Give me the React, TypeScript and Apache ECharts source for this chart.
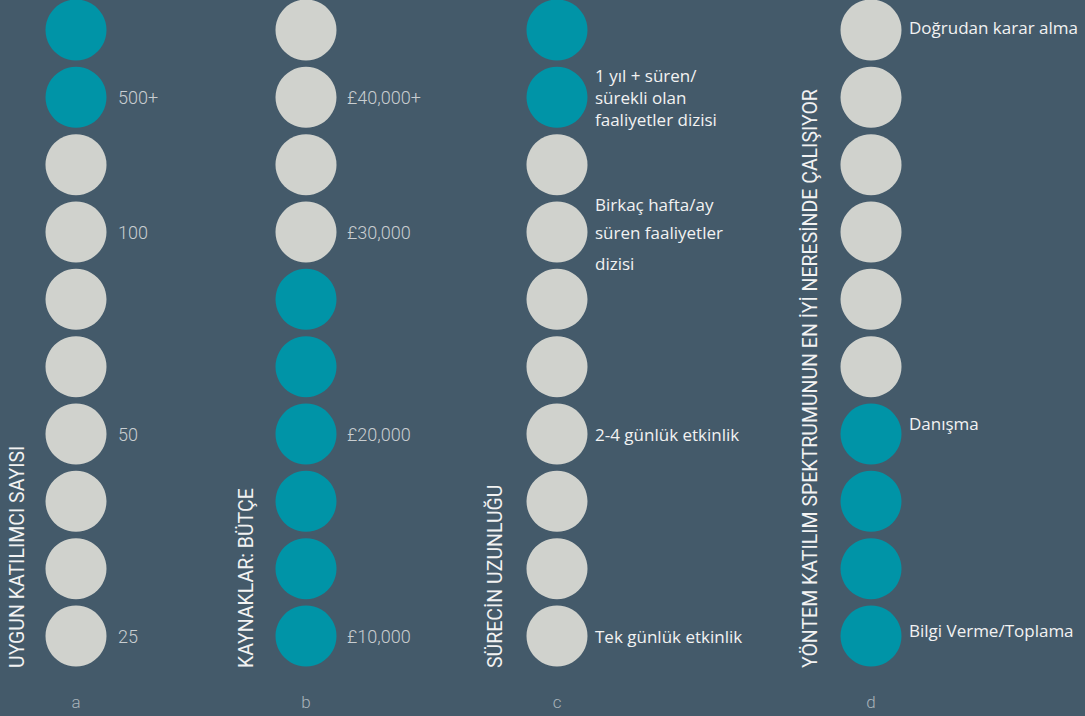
import React, { useEffect, useRef } from "react";
import * as echarts from "echarts";

const columnLetters = ["a", "b", "c", "d"];
const columnTitles = [
  "UYGUN KATILIMCI SAYISI",
  "KAYNAKLAR: BÜTÇE",
  "SÜRECİN UZUNLUĞU",
  "YÖNTEM KATILIM SPEKTRUMUNUN EN İYİ NERESİNDE ÇALIŞIYOR",
];
const rowIds = ["r0", "r1", "r2", "r3", "r4", "r5", "r6", "r7", "r8", "r9"];

const labelsA = ["", "500+", "", "100", "", "", "50", "", "", "25"];
const labelsB = ["", "£40,000+", "", "£30,000", "", "", "£20,000", "", "", "£10,000"];
const labelsC = [
  "",
  "1 yıl + süren/\nsürekli olan\nfaaliyetler dizisi",
  "",
  "Birkaç hafta/ay\nsüren faaliyetler\ndizisi",
  "",
  "",
  "2-4 günlük etkinlik",
  "",
  "",
  "Tek günlük etkinlik",
];
const labelsD = ["Doğrudan karar alma", "", "", "", "", "", "Danışma", "", "", "Bilgi Verme/Toplama"];

// 1 = highlighted (teal), 0 = not
const highlightA = [1, 1, 0, 0, 0, 0, 0, 0, 0, 0];
const highlightB = [0, 0, 0, 0, 1, 1, 1, 1, 1, 1];
const highlightC = [1, 1, 0, 0, 0, 0, 0, 0, 0, 0];
const highlightD = [0, 0, 0, 0, 0, 0, 1, 1, 1, 1];

const allLabels = [labelsA, labelsB, labelsC, labelsD];
const allHighlights = [highlightA, highlightB, highlightC, highlightD];

const TEAL = "#0094a7";
const GREY = "#d0d2cd";
const BG = "#445a6a";

const colCenters = [76, 306, 557, 871];
const labelMargins = [12, 11, 8, 8];
const titleX = [17, 246, 495, 810];

// rich style keys per (column, row) for vertical fine-tuning of the label text
const richKeys: Record<string, string> = {
  "2-1": "c22",
  "2-3": "c31",
  "3-0": "d0",
  "3-6": "d6",
  "3-9": "d9",
};

export default function App() {
  const ref = useRef<HTMLDivElement>(null);
  useEffect(() => {
    document.body.style.margin = "0";
    document.body.style.background = BG;
    const chart = echarts.init(ref.current!, null, { renderer: "svg" });

    const grids = colCenters.map((c) => ({
      left: c - 30,
      width: 60,
      top: 30,
      height: 606,
    }));

    const lightStyle = {
      color: "#c9ced1",
      fontFamily: "Roboto",
      fontWeight: 300,
      fontSize: 18,
    };
    const sansBase = {
      color: "#f2f2f2",
      fontFamily: "Open Sans",
      fontSize: 17,
    };
    const rich = {
      c22: { ...sansBase, lineHeight: 22 },
      c31: { ...sansBase, lineHeight: 31 },
      c31top: { ...sansBase, lineHeight: 31, padding: [6, 0, 0, 0] },
      d0: { ...sansBase, padding: [0, 0, 6, 0] },
      d6: { ...sansBase, padding: [0, 0, 22, 0] },
      d9: { ...sansBase, padding: [0, 0, 12, 0] },
    };

    const yAxes = allLabels.map((labels, gi) => ({
      gridIndex: gi,
      type: "category",
      inverse: true,
      boundaryGap: false,
      position: "right",
      data: rowIds,
      axisLine: { show: false },
      axisTick: { show: false },
      splitLine: { show: false },
      axisLabel: {
        interval: 0,
        margin: labelMargins[gi],
        align: "left",
        formatter: (_v: string, i: number) => {
          const txt = labels[i];
          if (!txt) return "";
          const key = richKeys[gi + "-" + i];
          if (!key) return txt;
          const lines = txt.split("\n");
          if (key === "c31") {
            return lines.map((l, li) => (li === 0 ? `{c31top|${l}}` : `{c31|${l}}`)).join("\n");
          }
          return lines.map((l) => `{${key}|${l}}`).join("\n");
        },
        ...(gi < 2 ? lightStyle : sansBase),
        rich: gi < 2 ? undefined : rich,
      },
    }));

    const xAxes = columnLetters.map((letter, gi) => ({
      gridIndex: gi,
      type: "category",
      data: [letter],
      axisLine: { show: false },
      axisTick: { show: false },
      splitLine: { show: false },
      axisLabel: {
        margin: 57,
        color: "#a9b3ba",
        fontFamily: "Roboto",
        fontWeight: 300,
        fontSize: 17,
      },
    }));

    const series = allHighlights.map((hl, gi) => ({
      type: "scatter",
      xAxisIndex: gi,
      yAxisIndex: gi,
      symbol: "circle",
      symbolSize: 61,
      clip: false,
      silent: true,
      itemStyle: { opacity: 1 },
      data: hl.map((h, ri) => ({
        value: [0, ri],
        itemStyle: { color: h ? TEAL : GREY, opacity: 1 },
      })),
    }));

    const graphic = columnTitles.map((t, gi) => ({
      type: "text",
      x: titleX[gi],
      y: 668,
      rotation: Math.PI / 2,
      style: {
        text: t,
        fill: "#f2f2f2",
        font: "19.5px Roboto",
        align: "left",
        verticalAlign: "middle",
      },
    }));

    chart.setOption({
      animation: false,
      backgroundColor: BG,
      grid: grids,
      xAxis: xAxes,
      yAxis: yAxes,
      series,
      graphic,
    });
    return () => chart.dispose();
  }, []);
  return <div ref={ref} style={{ width: 1085, height: 716 }} />;
}
